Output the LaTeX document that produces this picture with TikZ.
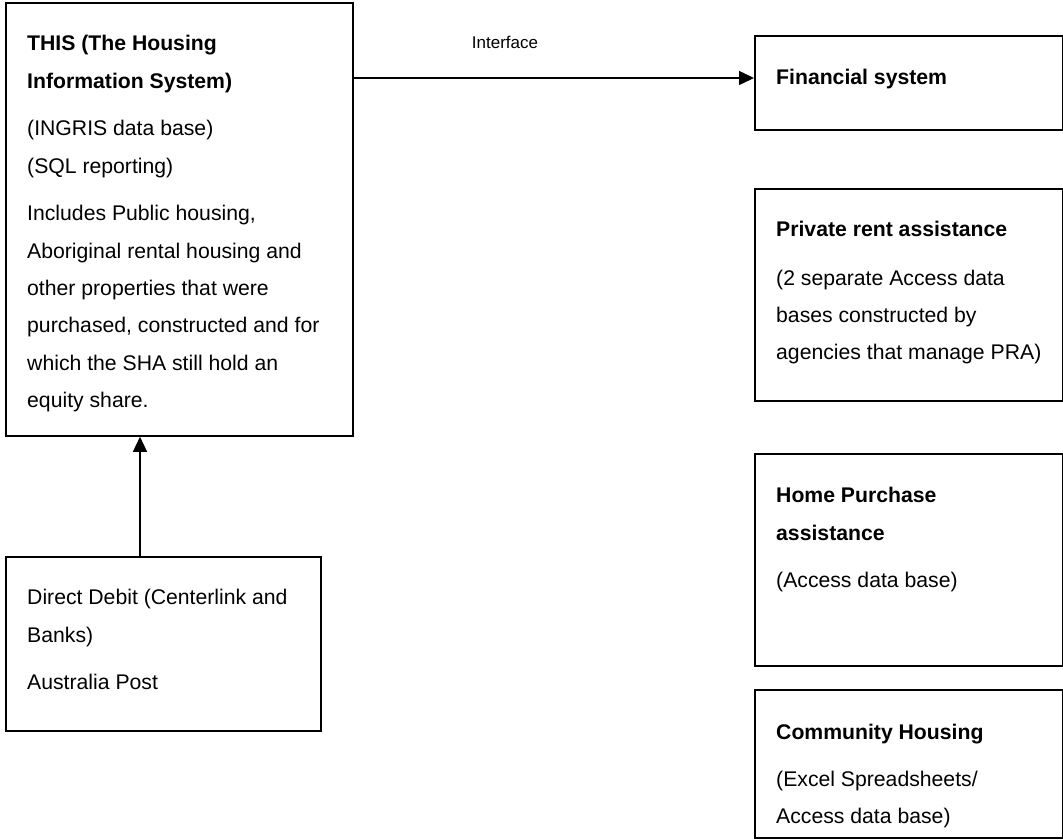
\documentclass[tikz,border=0pt]{standalone}
\usepackage{fontspec}
\setmainfont{Liberation Sans}
\usetikzlibrary{arrows.meta}
% body text: Arial-metric sans, generous line pitch
\newcommand{\bodysize}{\fontsize{21.2pt}{37.3pt}\selectfont}
\newcommand{\labelsize}{\fontsize{17pt}{20pt}\selectfont}
% fixes the height of the first line so that its baseline sits 20pt below the node top
\newcommand{\firstline}{\rule{0pt}{20pt}}

\begin{document}
\begin{tikzpicture}[x=1pt,y=-1pt,
  box/.style={draw, line width=1.8pt, rectangle, inner sep=0pt, anchor=north west},
  txt/.style={anchor=north west, inner sep=0pt, align=left, font=\bodysize},
  conn/.style={line width=1.5pt, -{Triangle[length=15pt,width=14pt]}}]
\useasboundingbox (0,0) rectangle (1063,839);

% ---- left column ----
\node[box, minimum width=347pt, minimum height=433pt] (this) at (5,2) {};
\node[txt] (thistext) at (27,30.5) {\firstline\textbf{THIS (The Housing}\\
  \textbf{Information System)}\\[10.5pt]
  (INGRIS data base)\\
  (SQL reporting)\\[10.5pt]
  Includes Public housing,\\
  Aboriginal rental housing and\\
  other properties that were\\
  purchased, constructed and for\\
  which the SHA still hold an\\
  equity share.};

\node[box, minimum width=315pt, minimum height=174pt] (debit) at (5,556) {};
\node[txt] (debittext) at (27,584.5) {\firstline Direct Debit (Centerlink and\\
  Banks)\\[10.5pt]
  Australia Post};

% ---- right column ----
\node[box, minimum width=308pt, minimum height=94pt] (fin) at (754,35) {};
\node[txt] (fintext) at (776,64.5) {\firstline\textbf{Financial system}};

\node[box, minimum width=308pt, minimum height=212pt] (pra) at (754,188) {};
\node[txt] (pratext) at (776,216.5) {\firstline\textbf{Private rent assistance}\\[11pt]
  (2 separate Access data\\
  bases constructed by\\
  agencies that manage PRA)};

\node[box, minimum width=308pt, minimum height=212pt] (hpa) at (754,453) {};
\node[txt] (hpatext) at (776,482.5) {\firstline\textbf{Home Purchase}\\
  \textbf{assistance}\\[10.5pt]
  (Access data base)};

\node[box, minimum width=308pt, minimum height=148pt] (ch) at (754,689) {};
\node[txt] (chtext) at (776,719.5) {\firstline\textbf{Community Housing}\\[9pt]
  (Excel Spreadsheets/\\
  Access data base)};

% ---- connectors ----
\draw[conn] ([yshift=-76pt]this.north east) -- ([yshift=-76pt]this.north east -| fin.west);
\node[anchor=base, inner sep=0pt, font=\labelsize] (iflabel) at (505,48) {Interface};
\draw[conn] ([xshift=135pt]debit.north west) -- ([xshift=135pt]debit.north west |- this.south);
\end{tikzpicture}
\end{document}
